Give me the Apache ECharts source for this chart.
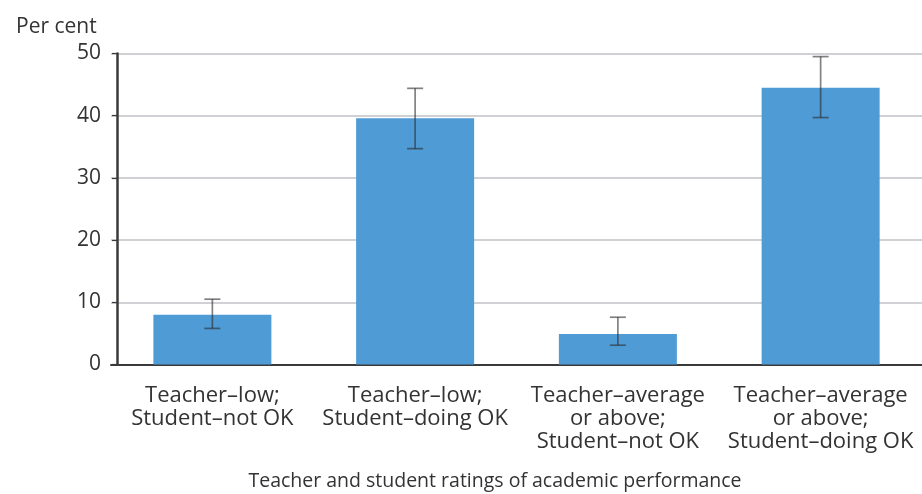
<!DOCTYPE html>
<html>
<head>
<meta charset="utf-8">
<script src="https://cdn.jsdelivr.net/npm/echarts@6/dist/echarts.min.js"></script>
<style>html,body{margin:0;padding:0;background:#fff}#c{width:922px;height:494px}</style>
</head>
<body>
<div id="c"></div>
<script>
const categories = [
  'Teacher\u2013low;\nStudent\u2013not OK',
  'Teacher\u2013low;\nStudent\u2013doing OK',
  'Teacher\u2013average\nor above;\nStudent\u2013not OK',
  'Teacher\u2013average\nor above;\nStudent\u2013doing OK'
];
const values = [8.0, 39.6, 4.9, 44.5];
const errLow = [5.8, 34.7, 3.1, 39.7];
const errHigh = [10.5, 44.4, 7.6, 49.5];
const yTicks = [0, 10, 20, 30, 40, 50];

const FONT = 'Open Sans';
const chart = echarts.init(document.getElementById('c'), null, {renderer: 'canvas'});
chart.setOption({
  animation: false,
  textStyle: {fontFamily: FONT},
  title: [
    {text: 'Per cent', left: 11, top: 12, textStyle: {fontFamily: FONT, fontSize: 21, fontWeight: 'normal', color: '#333'}},
    {text: 'Teacher and student ratings of academic performance', left: 490, top: 466, textAlign: 'center',
     textStyle: {fontFamily: FONT, fontSize: 19.5, fontWeight: 'normal', color: '#333'}}
  ],
  grid: {left: 111, top: 53.5, width: 815, height: 311, containLabel: false},
  xAxis: {
    type: 'category',
    data: categories,
    axisLine: {lineStyle: {color: '#3a3a3a', width: 2}},
    axisTick: {show: false},
    axisLabel: {fontFamily: FONT, fontSize: 22, color: '#333', lineHeight: 23, margin: 20, interval: 0}
  },
  yAxis: {
    type: 'value',
    min: yTicks[0], max: yTicks[yTicks.length - 1], interval: 10,
    offset: -6,
    axisLine: {show: true, lineStyle: {color: '#3a3a3a', width: 2.5}},
    axisTick: {show: true, length: 5, lineStyle: {color: '#3a3a3a', width: 1.2}},
    axisLabel: {fontFamily: FONT, fontSize: 21, color: '#333', margin: 16},
    splitLine: {lineStyle: {color: '#d0d1d4', width: 2}}
  },
  series: [
    {
      type: 'bar',
      data: values,
      barWidth: 118,
      itemStyle: {color: '#4f9bd5'},
      z: 2
    },
    {
      type: 'custom',
      z: 3,
      data: values.map((v, i) => [i, errLow[i], errHigh[i]]),
      renderItem: function (params, api) {
        const x = api.value(0);
        const lo = api.coord([x, api.value(1)]);
        const hi = api.coord([x, api.value(2)]);
        const hw = 8;
        const style = {stroke: 'rgba(45,45,45,0.6)', lineWidth: 1.7};
        return {
          type: 'group',
          children: [
            {type: 'line', shape: {x1: hi[0], y1: hi[1], x2: lo[0], y2: lo[1]}, style: style},
            {type: 'line', shape: {x1: hi[0] - hw, y1: hi[1], x2: hi[0] + hw, y2: hi[1]}, style: style},
            {type: 'line', shape: {x1: lo[0] - hw, y1: lo[1], x2: lo[0] + hw, y2: lo[1]}, style: style}
          ]
        };
      }
    }
  ]
});
</script>
</body>
</html>
